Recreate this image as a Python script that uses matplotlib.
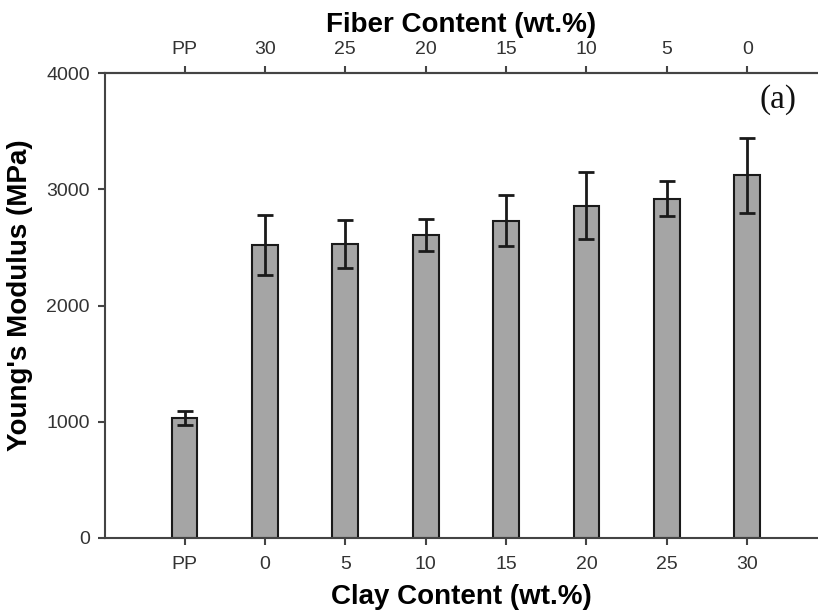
import numpy as np
import matplotlib
matplotlib.use("Agg")
import matplotlib.pyplot as plt

# ------------------------------ Data ----------------------------------------
clay_labels  = ['PP', '0', '5', '10', '15', '20', '25', '30']
fiber_labels = ['PP', '30', '25', '20', '15', '10', '5', '0']
modulus      = [1030, 2520, 2530, 2605, 2730, 2860, 2920, 3120]   # MPa
modulus_err  = [60, 255, 205, 135, 220, 285, 150, 320]

# ------------------------------ Figure --------------------------------------
plt.rcParams['font.family'] = ['Liberation Sans', 'DejaVu Sans']

fig = plt.figure(figsize=(8.18, 6.10), dpi=100)
ax = fig.add_axes([105 / 818, 1 - 538 / 610, 713 / 818, (538 - 73) / 610])

x = np.arange(len(clay_labels))
ax.bar(x, modulus, width=0.32, color='#a5a5a5', edgecolor='#1a1a1a', linewidth=1.5,
       zorder=2)
ax.errorbar(x, modulus, yerr=modulus_err, fmt='none', ecolor='#1a1a1a',
            elinewidth=2, capsize=5.8, capthick=2, zorder=3)

ax.set_xlim(-0.99, 7.88)
ax.set_ylim(0, 4000)
ax.set_yticks([0, 1000, 2000, 3000, 4000])
ax.set_xticks(x)
ax.set_xticklabels(clay_labels)

for side in ['left', 'bottom', 'top']:
    ax.spines[side].set_color('#444444')
    ax.spines[side].set_linewidth(1.5)
ax.spines['right'].set_visible(False)

ax.tick_params(axis='both', direction='out', length=5, width=1.5, color='#444444',
               labelsize=14, labelcolor='#333333', pad=6)
ax.tick_params(axis='x', pad=8)

ax.set_xlabel('Clay Content (wt.%)', fontsize=20, fontweight='bold', labelpad=8)
ax.set_ylabel("Young's Modulus (MPa)", fontsize=20, fontweight='bold')
ax.yaxis.set_label_coords(-0.101, 0.523)

# top axis: fiber content
ax2 = ax.twiny()
ax2.set_xlim(ax.get_xlim())
ax2.set_xticks(x)
ax2.set_xticklabels(fiber_labels)
for side in ['left', 'bottom', 'right']:
    ax2.spines[side].set_visible(False)
ax2.spines['top'].set_color('#444444')
ax2.spines['top'].set_linewidth(1.5)
ax2.tick_params(axis='x', direction='out', length=5, width=1.5, color='#444444',
                labelsize=14, labelcolor='#333333', pad=6)
ax2.set_xlabel('Fiber Content (wt.%)', fontsize=20, fontweight='bold', labelpad=6)

fig.text(778 / 818, 1 - 100 / 610, '(a)', fontsize=24, family='Liberation Serif',
         ha='center', va='center', color='#111111')

plt.savefig('out.png', dpi=100)
plt.close()
